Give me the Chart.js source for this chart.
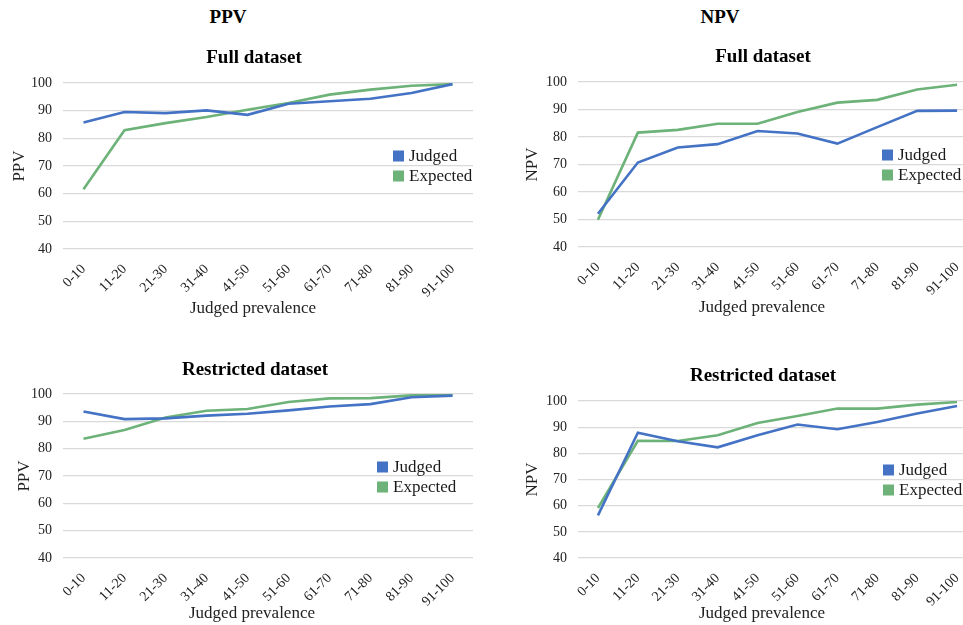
<!DOCTYPE html>
<html>
<head>
<meta charset="utf-8">
<script src="https://cdn.jsdelivr.net/npm/chart.js@4.4.1/dist/chart.umd.min.js"></script>
<style>
  html, body { margin: 0; padding: 0; background: #fff; overflow: hidden; width: 963px; height: 625px; }
  .wrap { position: relative; width: 963px; height: 625px; }
  canvas { position: absolute; }
  .lbl { position: absolute; transform: translate(-50%, -50%); white-space: nowrap; font-family: "Liberation Serif", serif; }
  .col-head { font-weight: bold; font-size: 19px; color: #000; }
  .panel-title { font-weight: bold; font-size: 19px; color: #000; }
  .x-title { font-size: 17px; color: #222; }
</style>
</head>
<body>
<div class="wrap">
  <canvas id="ppvFull" width="480" height="290" style="left:0;top:40px"></canvas>
  <canvas id="npvFull" width="500" height="290" style="left:480px;top:40px"></canvas>
  <canvas id="ppvRest" width="480" height="270" style="left:0;top:355px"></canvas>
  <canvas id="npvRest" width="500" height="270" style="left:480px;top:355px"></canvas>

  <div class="lbl col-head" style="left:228px;top:17px">PPV</div>
  <div class="lbl col-head" style="left:720px;top:17px">NPV</div>

  <div class="lbl panel-title" style="left:254px;top:57px">Full dataset</div>
  <div class="lbl panel-title" style="left:763px;top:56px">Full dataset</div>
  <div class="lbl panel-title" style="left:255px;top:369px">Restricted dataset</div>
  <div class="lbl panel-title" style="left:763px;top:375px">Restricted dataset</div>

  <div class="lbl x-title" style="left:253px;top:308px">Judged prevalence</div>
  <div class="lbl x-title" style="left:762px;top:307px">Judged prevalence</div>
  <div class="lbl x-title" style="left:252px;top:613px">Judged prevalence</div>
  <div class="lbl x-title" style="left:762px;top:613px">Judged prevalence</div>
</div>
<script>
// Judged prevalence bins
const categories = ['0-10', '11-20', '21-30', '31-40', '41-50', '51-60', '61-70', '71-80', '81-90', '91-100'];
const yTicks = [40, 50, 60, 70, 80, 90, 100];

// Full dataset
const ppvFullJudged   = [85.7, 89.5, 89.1, 90.1, 88.5, 92.5, 93.4, 94.3, 96.4, 99.6];
const ppvFullExpected = [61.6, 82.9, 85.5, 87.7, 90.3, 92.8, 95.8, 97.6, 99.0, 99.6];
const npvFullJudged   = [52.1, 70.7, 76.2, 77.4, 82.2, 81.3, 77.6, 83.6, 89.5, 89.6];
const npvFullExpected = [49.9, 81.6, 82.6, 84.8, 84.8, 89.1, 92.5, 93.5, 97.3, 99.0];

// Restricted dataset
const ppvRestJudged   = [93.6, 90.8, 91.1, 92.1, 92.8, 94.0, 95.4, 96.3, 98.8, 99.4];
const ppvRestExpected = [83.6, 86.8, 91.4, 93.9, 94.5, 97.1, 98.4, 98.5, 99.5, 99.5];
const npvRestJudged   = [56.3, 87.9, 84.6, 82.3, 86.9, 91.0, 89.2, 92.0, 95.2, 98.1];
const npvRestExpected = [59.1, 84.8, 84.7, 86.9, 91.6, 94.3, 97.1, 97.1, 98.6, 99.6];

const BLUE = '#4472C4';
const GREEN = '#6DB278';
const SERIF = '"Liberation Serif", "Times New Roman", serif';

// Legend drawn inside the plot area, like the original
const boxLegend = {
  id: 'boxLegend',
  afterDraw(chart, args, opts) {
    const ctx = chart.ctx;
    ctx.save();
    ctx.font = '17px ' + SERIF;
    ctx.textBaseline = 'middle';
    chart.data.datasets.forEach((ds, i) => {
      const cy = opts.y + i * 20;
      ctx.fillStyle = ds.borderColor;
      ctx.fillRect(opts.x, cy - 5.5, 11, 11);
      ctx.fillStyle = '#1a1a1a';
      ctx.fillText(ds.label, opts.x + 16, cy + 1);
    });
    ctx.restore();
  }
};

function makeChart(id, cfg) {
  const ctx = document.getElementById(id).getContext('2d');
  return new Chart(ctx, {
    type: 'line',
    data: {
      labels: categories,
      datasets: [
        { label: 'Judged', data: cfg.judged, borderColor: BLUE, backgroundColor: BLUE },
        { label: 'Expected', data: cfg.expected, borderColor: GREEN, backgroundColor: GREEN }
      ]
    },
    options: {
      responsive: false,
      animation: false,
      layout: { padding: { left: 0, right: cfg.padRight, top: cfg.padTop, bottom: 0 } },
      elements: {
        line: { borderWidth: 2.6, tension: 0 },
        point: { radius: 0, hoverRadius: 0 }
      },
      plugins: {
        legend: { display: false },
        tooltip: { enabled: false },
        title: { display: false },
        boxLegend: cfg.legend
      },
      scales: {
        x: {
          offset: true,
          grid: { display: false },
          border: { display: false },
          ticks: {
            color: '#222',
            font: { family: SERIF, size: 14 },
            minRotation: 45,
            maxRotation: 45,
            autoSkip: false,
            padding: 4
          },
          afterFit: scale => { scale.height = cfg.xHeight; }
        },
        y: {
          min: 40,
          max: 100,
          afterBuildTicks: scale => { scale.ticks = yTicks.map(v => ({ value: v })); },
          grid: { color: '#D9D9D9', lineWidth: 1.3, drawTicks: false },
          border: { display: false },
          ticks: {
            color: '#222',
            font: { family: SERIF, size: 14 },
            padding: 11
          },
          title: {
            display: true,
            text: cfg.yTitle,
            color: '#222',
            font: { family: SERIF, size: 17, lineHeight: 1.2 },
            padding: { top: cfg.yTitlePad, bottom: 0 }
          },
          afterFit: scale => { scale.width = cfg.yWidth; }
        }
      }
    },
    plugins: [boxLegend]
  });
}

makeChart('ppvFull', {
  judged: ppvFullJudged, expected: ppvFullExpected, yTitle: 'PPV',
  padTop: 43, xHeight: 81, yWidth: 63, yTitlePad: 9.8, padRight: 7,
  legend: { x: 393, y: 116 }
});

makeChart('npvFull', {
  judged: npvFullJudged, expected: npvFullExpected, yTitle: 'NPV',
  padTop: 42, xHeight: 83, yWidth: 98, yTitlePad: 42.8, padRight: 3,
  legend: { x: 402, y: 115 }
});

makeChart('ppvRest', {
  judged: ppvRestJudged, expected: ppvRestExpected, yTitle: 'PPV',
  padTop: 39, xHeight: 67, yWidth: 63, yTitlePad: 14.8, padRight: 7,
  legend: { x: 377, y: 112 }
});

makeChart('npvRest', {
  judged: npvRestJudged, expected: npvRestExpected, yTitle: 'NPV',
  padTop: 46, xHeight: 67, yWidth: 98, yTitlePad: 42.8, padRight: 3,
  legend: { x: 403, y: 115 }
});
</script>
</body>
</html>
